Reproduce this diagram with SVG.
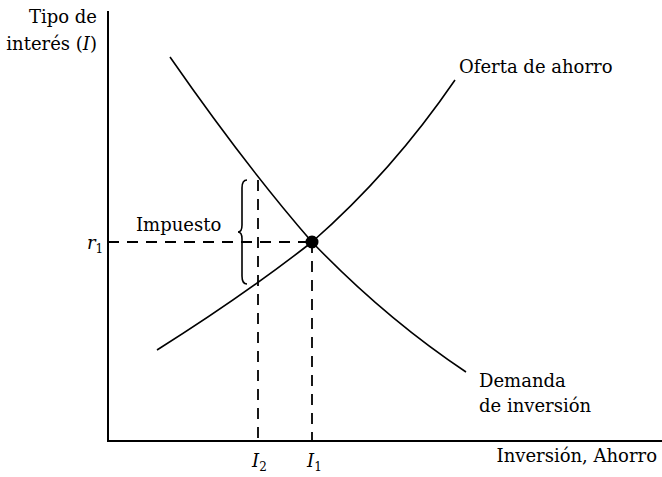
<svg xmlns="http://www.w3.org/2000/svg" width="662" height="477" viewBox="0 0 662 477">
<style>
.ax{stroke:#000;stroke-width:2;fill:none}
.cv{stroke:#000;stroke-width:1.6;fill:none}
.ds{stroke:#000;stroke-width:1.8;fill:none;stroke-dasharray:11,8}
text{font-family:"DejaVu Serif","Liberation Serif",serif;font-size:18px;fill:#000}
.sub{font-size:12px;font-style:normal}
</style>
<rect width="662" height="477" fill="#fff"/>
<g id="axes">
<path class="ax" d="M108,11 V441 H662"/>
</g>
<g id="connectors">
<path class="ds" d="M108,242 H312"/>
<path class="ds" d="M312,242 V441"/>
<path class="ds" d="M258,180 V441"/>
</g>
<g id="demand">
<path class="cv" d="M170,57 Q245,165 312,242 Q385,318 466,372"/>
<text x="479" y="387">Demanda</text>
<text x="479" y="412">de inversión</text>
</g>
<g id="supply">
<path class="cv" d="M157,350 Q243,296 312,242 Q392,172 455,80"/>
<text x="459" y="73">Oferta de ahorro</text>
</g>
<g id="equilibrium">
<circle cx="312" cy="242" r="6.5" fill="#000"/>
</g>
<g id="tax">
<path class="cv" d="M247,180 Q242,180 242,188 V225 Q242,232 238,232 Q242,232 242,239 V276 Q242,284 247,284" stroke-width="1.4"/>
<text x="136" y="231">Impuesto</text>
</g>
<g id="labels">
<text x="97" y="23" text-anchor="end">Tipo de</text>
<text x="97" y="50" text-anchor="end">interés (<tspan font-style="italic">I</tspan>)</text>
<text x="87" y="249" font-style="italic">r<tspan class="sub" dy="4">1</tspan></text>
<text x="252" y="467" font-style="italic">I<tspan class="sub" dy="4">2</tspan></text>
<text x="307" y="467" font-style="italic">I<tspan class="sub" dy="4">1</tspan></text>
<text x="657" y="462" text-anchor="end">Inversión, Ahorro</text>
</g>
</svg>
